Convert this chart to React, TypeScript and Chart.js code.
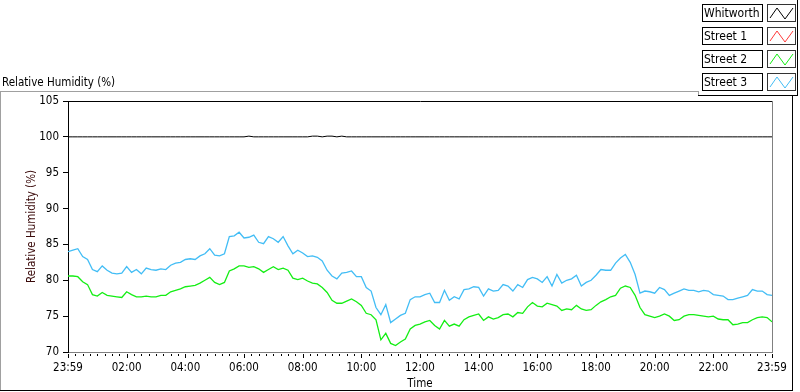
import React, { useEffect, useRef } from 'react';
import { Chart, registerables } from 'chart.js';

Chart.register(...registerables);

// ---------- data ----------
const SERIES_NAMES = ['Whitworth', 'Street 1', 'Street 2', 'Street 3'];
const SERIES_COLORS = ['#000000', '#ff3a3a', '#14ee14', '#42bdf5'];

const SAMPLE_STEP_MIN = 10; // one reading every 10 minutes, 23:59 -> 23:59

const WHITWORTH = [
  100.0, 100.0, 100.0, 100.0, 100.0, 100.0, 100.0, 100.0, 100.0, 100.0, 100.0, 100.0,
  100.0, 100.0, 100.0, 100.0, 100.0, 100.0, 100.0, 100.0, 100.0, 100.0, 100.0, 100.0,
  100.0, 100.0, 100.0, 100.0, 100.0, 100.0, 100.0, 100.0, 100.0, 100.0, 100.0, 100.0,
  100.0, 100.1, 100.0, 100.0, 100.0, 100.0, 100.0, 100.0, 100.0, 100.0, 100.0, 100.0,
  100.0, 100.0, 100.1, 100.1, 100.0, 100.1, 100.1, 100.0, 100.1, 100.0, 100.0, 100.0,
  100.0, 100.0, 100.0, 100.0, 100.0, 100.0, 100.0, 100.0, 100.0, 100.0, 100.0, 100.0,
  100.0, 100.0, 100.0, 100.0, 100.0, 100.0, 100.0, 100.0, 100.0, 100.0, 100.0, 100.0,
  100.0, 100.0, 100.0, 100.0, 100.0, 100.0, 100.0, 100.0, 100.0, 100.0, 100.0, 100.0,
  100.0, 100.0, 100.0, 100.0, 100.0, 100.0, 100.0, 100.0, 100.0, 100.0, 100.0, 100.0,
  100.0, 100.0, 100.0, 100.0, 100.0, 100.0, 100.0, 100.0, 100.0, 100.0, 100.0, 100.0,
  100.0, 100.0, 100.0, 100.0, 100.0, 100.0, 100.0, 100.0, 100.0, 100.0, 100.0, 100.0,
  100.0, 100.0, 100.0, 100.0, 100.0, 100.0, 100.0, 100.0, 100.0, 100.0, 100.0, 100.0,
  100.0,
];

const STREET_1: number[] = [];

const STREET_2 = [
  80.6, 80.6, 80.5, 79.8, 79.4, 78.0, 77.8, 78.3, 77.9, 77.8, 77.7, 77.6,
  78.4, 78.0, 77.7, 77.7, 77.8, 77.7, 77.7, 77.9, 77.9, 78.4, 78.6, 78.8,
  79.1, 79.2, 79.3, 79.6, 80.0, 80.4, 79.7, 79.4, 79.7, 81.3, 81.6, 82.0,
  82.0, 81.8, 81.9, 81.6, 81.1, 81.5, 81.9, 81.5, 81.7, 81.4, 80.3, 80.1,
  80.3, 79.9, 79.6, 79.5, 79.0, 78.3, 77.2, 76.8, 76.8, 77.1, 77.4, 77.0,
  76.5, 75.4, 75.2, 74.5, 71.7, 72.6, 71.2, 70.9, 71.4, 71.8, 73.2, 73.7,
  73.9, 74.2, 74.4, 73.7, 73.2, 74.4, 73.6, 73.9, 73.6, 74.5, 74.9, 75.1,
  75.3, 74.4, 74.9, 74.6, 74.8, 75.2, 75.3, 74.9, 75.5, 75.4, 76.3, 76.9,
  76.4, 76.3, 76.8, 76.6, 76.4, 75.8, 76.0, 75.9, 76.5, 76.0, 75.8, 75.9,
  76.5, 77.0, 77.3, 77.7, 77.9, 78.9, 79.2, 79.0, 77.9, 76.2, 75.2, 75.0,
  74.8, 75.0, 75.3, 75.0, 74.4, 74.5, 75.0, 75.2, 75.2, 75.1, 75.0, 74.9,
  75.0, 74.6, 74.5, 74.5, 73.8, 73.9, 74.1, 74.1, 74.5, 74.8, 74.9, 74.8,
  74.2,
];

const STREET_3 = [
  84.0, 84.2, 84.4, 83.3, 82.9, 81.5, 81.2, 82.0, 81.4, 81.0, 80.9, 81.0,
  81.9, 81.1, 81.5, 80.9, 81.7, 81.5, 81.4, 81.6, 81.5, 82.1, 82.4, 82.5,
  82.9, 83.0, 82.9, 83.4, 83.7, 84.4, 83.5, 83.4, 83.7, 86.1, 86.2, 86.7,
  85.9, 86.0, 86.3, 85.3, 85.1, 86.1, 85.8, 85.3, 86.1, 84.8, 83.7, 84.2,
  83.8, 83.3, 83.4, 83.2, 82.7, 81.4, 80.6, 80.2, 81.0, 81.1, 81.3, 80.5,
  80.5, 79.0, 78.5, 76.2, 75.2, 76.6, 74.1, 74.6, 75.1, 75.4, 77.3, 77.7,
  77.7, 78.0, 78.2, 76.9, 76.9, 78.6, 77.2, 77.7, 77.4, 78.7, 78.8, 79.1,
  79.0, 77.8, 78.8, 78.5, 78.6, 79.4, 79.2, 78.5, 79.4, 79.0, 80.1, 80.4,
  80.2, 79.7, 80.5, 79.2, 80.8, 79.6, 80.0, 80.2, 80.7, 79.2, 79.7, 80.0,
  80.7, 81.5, 81.4, 81.4, 82.4, 83.1, 83.6, 82.5, 80.8, 78.2, 78.5, 78.4,
  78.2, 79.0, 78.7, 77.9, 78.2, 78.5, 78.8, 78.6, 78.6, 78.4, 78.6, 78.5,
  78.0, 77.9, 77.8, 77.3, 77.3, 77.5, 77.7, 77.9, 78.7, 78.5, 78.5, 78.0,
  77.9,
];

const X_TICK_MINUTES = [0, 120, 240, 360, 480, 600, 720, 840, 960, 1080, 1200, 1320, 1440];
const X_TICK_LABELS = ['23:59', '02:00', '04:00', '06:00', '08:00', '10:00', '12:00', '14:00', '16:00', '18:00', '20:00', '22:00', '23:59'];
const X_MINOR_STEP = 15;
const X_MAX = 1440;

const Y_MIN = 70;
const Y_MAX = 105;
const Y_STEP = 5;

const CHART_TITLE = 'Relative Humidity (%)';
const Y_TITLE = 'Relative Humidity (%)';
const X_TITLE = 'Time';

// ---------- style ----------
const FONT_FAMILY = '"DejaVu Sans Condensed", "DejaVu Sans", sans-serif';
const W = 800;
const H = 392;

const toPoints = (arr: number[]) => arr.map((v, i) => ({ x: i * SAMPLE_STEP_MIN, y: v }));

const decorPlugin = {
  id: 'decor',
  afterDraw(chart: any) {
    const { ctx, chartArea: a } = chart;
    const xs = chart.scales.x;
    ctx.save();
    ctx.lineWidth = 1;
    // top border of plot
    ctx.strokeStyle = '#000';
    ctx.beginPath();
    ctx.moveTo(Math.round(a.left), Math.round(a.top) + 0.5);
    ctx.lineTo(Math.round(a.right) + 1, Math.round(a.top) + 0.5);
    ctx.stroke();
    // right border of plot
    ctx.strokeStyle = '#808080';
    ctx.beginPath();
    ctx.moveTo(Math.round(a.right) + 0.5, Math.round(a.top));
    ctx.lineTo(Math.round(a.right) + 0.5, Math.round(a.bottom) + 1);
    ctx.stroke();
    // x tick marks (major + minor)
    ctx.strokeStyle = '#000';
    ctx.beginPath();
    const y0 = Math.round(a.bottom) + 2;
    for (let m = 0; m <= X_MAX; m += X_MINOR_STEP) {
      const px = Math.round(xs.getPixelForValue(m)) + 0.5;
      const major = X_TICK_MINUTES.includes(m);
      ctx.moveTo(px, y0);
      ctx.lineTo(px, y0 + (major ? 4 : 2));
    }
    ctx.stroke();
    ctx.restore();
  },
};

function LegendIcon({ color }: { color: string }) {
  return (
    <svg width={27} height={16} style={{ position: 'absolute', left: 0, top: 0 }}>
      <polyline points="2,13 9,3 17,14 25,3" fill="none" stroke={color} strokeWidth={1} />
    </svg>
  );
}

function Line({ l, t, w, h, c }: { l: number; t: number; w: number; h: number; c: string }) {
  return <div style={{ position: 'absolute', left: l, top: t, width: w, height: h, background: c }} />;
}

export default function App() {
  const canvasRef = useRef<HTMLCanvasElement | null>(null);

  useEffect(() => {
    const canvas = canvasRef.current;
    if (!canvas) return;
    const tickFont = { family: FONT_FAMILY, size: 11.5 };
    const chart = new Chart(canvas, {
      type: 'line',
      data: {
        datasets: [
          { label: SERIES_NAMES[0], data: toPoints(WHITWORTH), borderColor: SERIES_COLORS[0], borderWidth: 1 },
          { label: SERIES_NAMES[1], data: toPoints(STREET_1), borderColor: SERIES_COLORS[1] },
          { label: SERIES_NAMES[2], data: toPoints(STREET_2), borderColor: SERIES_COLORS[2] },
          { label: SERIES_NAMES[3], data: toPoints(STREET_3), borderColor: SERIES_COLORS[3] },
        ],
      },
      options: {
        animation: false,
        responsive: false,
        maintainAspectRatio: false,
        devicePixelRatio: 1,
        layout: { padding: { left: 0, top: 101, right: 28, bottom: 0 } },
        elements: {
          point: { radius: 0, hoverRadius: 0 },
          line: { borderWidth: 1.3, tension: 0 },
        },
        plugins: {
          legend: { display: false },
          tooltip: { enabled: false },
        },
        scales: {
          x: {
            type: 'linear',
            min: 0,
            max: X_MAX,
            afterBuildTicks: (s: any) => {
              s.ticks = X_TICK_MINUTES.map((v) => ({ value: v }));
            },
            afterFit: (s: any) => {
              s.height = 40;
            },
            ticks: {
              autoSkip: false,
              maxRotation: 0,
              padding: 3,
              color: '#000',
              font: tickFont,
              callback: (_v: any, i: number) => X_TICK_LABELS[i],
            },
            grid: {
              display: true,
              drawOnChartArea: false,
              drawTicks: true,
              tickLength: 6,
              tickColor: 'rgba(0,0,0,0)',
            },
            border: { display: true, color: '#808080', width: 1 },
            title: {
              display: true,
              text: X_TITLE,
              color: '#000',
              font: { family: FONT_FAMILY, size: 11.5 },
              padding: { top: 0, bottom: 1 },
            },
          },
          y: {
            min: Y_MIN,
            max: Y_MAX,
            afterFit: (s: any) => {
              s.width = 68;
            },
            ticks: {
              stepSize: Y_STEP,
              padding: 4,
              color: '#000',
              font: tickFont,
            },
            grid: {
              display: true,
              drawOnChartArea: false,
              drawTicks: true,
              tickLength: 5,
              tickColor: '#000',
            },
            border: { display: true, color: '#000', width: 1 },
            title: {
              display: true,
              text: Y_TITLE,
              color: '#3a0a0a',
              font: { family: FONT_FAMILY, size: 11.5 },
              padding: { top: 25, bottom: 0 },
            },
          },
        },
      },
      plugins: [decorPlugin],
    } as any);
    return () => chart.destroy();
  }, []);

  const legendTops = [4, 27, 50, 73];

  return (
    <div style={{ position: 'fixed', left: 0, top: 0, width: W, height: H, background: '#fff', overflow: 'hidden' }}>
      <canvas ref={canvasRef} width={W} height={H} style={{ position: 'absolute', left: 0, top: 0, width: W, height: H }} />
      {/* outer frame */}
      <Line l={0} t={91} w={698} h={1} c="#a0a0a0" />
      <Line l={0} t={91} w={1} h={300} c="#a0a0a0" />
      <Line l={0} t={390} w={793} h={1} c="#000" />
      <Line l={792} t={95} w={1} h={296} c="#000" />
      <Line l={698} t={91} w={1} h={5} c="#a0a0a0" />
      <Line l={698} t={95} w={100} h={1} c="#000" />
      <Line l={797} t={0} w={1} h={96} c="#000" />
      {/* chart title */}
      <div
        style={{
          position: 'absolute',
          left: 2,
          top: 76,
          fontFamily: FONT_FAMILY,
          fontSize: 11.5,
          lineHeight: '13px',
          color: '#000',
          whiteSpace: 'nowrap',
        }}
      >
        {CHART_TITLE}
      </div>
      {/* legend */}
      {SERIES_NAMES.map((name, i) => (
        <React.Fragment key={name}>
          <div
            style={{
              position: 'absolute',
              left: 702,
              top: legendTops[i],
              width: 59,
              height: 16,
              border: '1px solid #000',
              fontFamily: FONT_FAMILY,
              fontSize: 12,
              lineHeight: '16px',
              color: '#000',
              whiteSpace: 'nowrap',
              overflow: 'hidden',
              boxSizing: 'content-box',
            }}
          >
            <span style={{ marginLeft: 1 }}>{name}</span>
          </div>
          <div
            style={{
              position: 'absolute',
              left: 767,
              top: legendTops[i],
              width: 27,
              height: 16,
              border: '1px solid #333',
              background: '#fff',
            }}
          >
            <LegendIcon color={SERIES_COLORS[i]} />
          </div>
        </React.Fragment>
      ))}
    </div>
  );
}
